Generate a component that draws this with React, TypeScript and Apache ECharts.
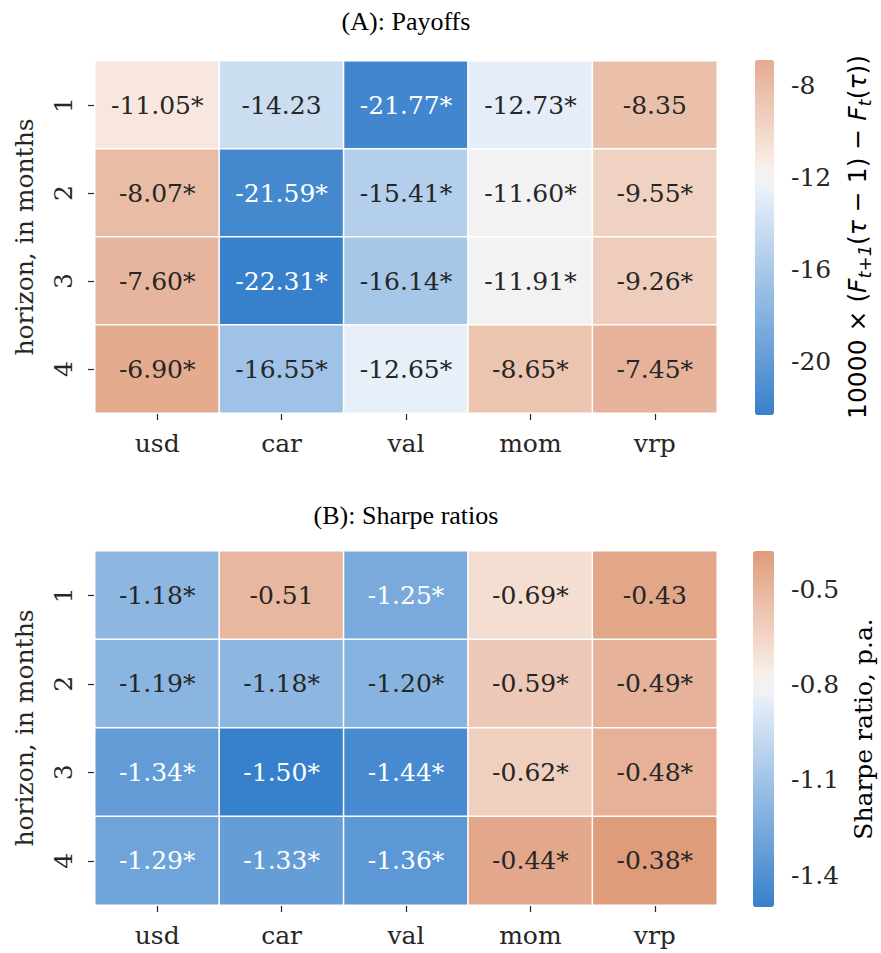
import React, { useEffect, useRef } from 'react';
import * as echarts from 'echarts';

const assets = ['usd', 'car', 'val', 'mom', 'vrp'];
const horizons = ['1', '2', '3', '4'];

const payoffs = [
  [-11.05, -14.23, -21.77, -12.73, -8.35],
  [-8.07, -21.59, -15.41, -11.6, -9.55],
  [-7.6, -22.31, -16.14, -11.91, -9.26],
  [-6.9, -16.55, -12.65, -8.65, -7.45],
];
const payoffStars = [
  [true, false, true, true, false],
  [true, true, true, true, true],
  [true, true, true, true, true],
  [true, true, true, true, true],
];
const sharpes = [
  [-1.18, -0.51, -1.25, -0.69, -0.43],
  [-1.19, -1.18, -1.2, -0.59, -0.49],
  [-1.34, -1.5, -1.44, -0.62, -0.48],
  [-1.29, -1.33, -1.36, -0.44, -0.38],
];
const sharpeStars = [
  [true, false, true, true, false],
  [true, true, true, true, true],
  [true, true, true, true, true],
  [true, true, true, true, true],
];
const payoffTicks = [-20, -16, -12, -8];
const sharpeTicks = [-1.4, -1.1, -0.8, -0.5];
const payoffScale = { min: -22.31, max: -6.9, center: -12 };
const sharpeScale = { min: -1.5, max: -0.38, center: -0.8 };

// diverging palette: full blue / light blue tint / grey centre / light orange tint / full orange
const BLUE = [55, 128, 203];
const LIGHT_BLUE = [235, 242, 250];
const MID = [242, 242, 242];
const LIGHT_ORANGE = [250, 239, 233];
const ORANGE = [203, 96, 44];
const SEP = 0.04;
const DARK = '#262626';
const SERIF = 'DejaVu Serif';

function lerp(a: number[], b: number[], t: number) {
  return a.map((v, i) => v + (b[i] - v) * t);
}
function cmap(t: number) {
  let c: number[];
  if (Math.abs(t) <= SEP) c = MID;
  else if (t < 0) c = lerp(LIGHT_BLUE, BLUE, Math.min(1, (-t - SEP) / (1 - SEP)));
  else c = lerp(LIGHT_ORANGE, ORANGE, Math.min(1, (t - SEP) / (1 - SEP)));
  return c.map((v) => Math.round(v));
}
function colorFor(v: number, s: { min: number; max: number; center: number }) {
  const vr = Math.max(s.max - s.center, s.center - s.min);
  return cmap((v - s.center) / vr);
}
function toHex(c: number[]) {
  return '#' + c.map((v) => v.toString(16).padStart(2, '0')).join('');
}
function lum(c: number[]) {
  const f = (x: number) => {
    const s = x / 255;
    return s <= 0.03928 ? s / 12.92 : Math.pow((s + 0.055) / 1.055, 2.4);
  };
  return 0.2126 * f(c[0]) + 0.7152 * f(c[1]) + 0.0722 * f(c[2]);
}
function paletteSamples(s: { min: number; max: number; center: number }) {
  const out: string[] = [];
  const n = 255;
  for (let i = 0; i <= n; i++) {
    out.push(toHex(colorFor(s.min + ((s.max - s.min) * i) / n, s)));
  }
  return out;
}
function cells(vals: number[][], stars: boolean[][], s: any) {
  const data: any[] = [];
  vals.forEach((row, r) =>
    row.forEach((v, c) => {
      const col = colorFor(v, s);
      data.push({
        value: [c, r, v],
        itemStyle: { color: toHex(col) },
        label: {
          formatter: v.toFixed(2) + (stars[r][c] ? '*' : ''),
          color: lum(col) > 0.408 ? DARK : '#ffffff',
        },
      });
    })
  );
  return data;
}

export default function App() {
  const ref = useRef<HTMLDivElement>(null);
  useEffect(() => {
    if (!ref.current) return;
    const chart = echarts.init(ref.current, null, { renderer: 'svg' });
    const heatGrids = [
      { left: 95, top: 61, width: 622, height: 352 },
      { left: 95, top: 551, width: 622, height: 354 },
    ];
    const barGrids = [
      { left: 755, top: 60, width: 19, height: 355 },
      { left: 753, top: 551, width: 21, height: 356 },
    ];
    const scales = [payoffScale, sharpeScale];
    const ticks = [payoffTicks, sharpeTicks];
    const tickStyle = { show: true, length: 7, lineStyle: { color: DARK, width: 1.2 } };
    const labelFont = { fontFamily: SERIF, fontSize: 25, color: DARK };

    const option: any = {
      animation: false,
      backgroundColor: '#ffffff',
      grid: [...heatGrids, ...barGrids],
      xAxis: [
        ...[0, 1].map((g) => ({
          gridIndex: g,
          type: 'category',
          data: assets,
          position: 'bottom',
          axisLine: { show: false },
          axisTick: { ...tickStyle, alignWithLabel: true },
          axisLabel: { ...labelFont, margin: 18 },
          splitArea: { show: false },
          splitLine: { show: false },
        })),
        ...[2, 3].map((g) => ({ gridIndex: g, type: 'value', show: false, min: 0, max: 1 })),
      ],
      yAxis: [
        ...[0, 1].map((g) => ({
          gridIndex: g,
          type: 'category',
          data: horizons,
          inverse: true,
          axisLine: { show: false },
          axisTick: { ...tickStyle, alignWithLabel: true },
          axisLabel: { ...labelFont, rotate: 90, margin: 19 },
          splitArea: { show: false },
          splitLine: { show: false },
          name: 'horizon, in months',
          nameLocation: 'middle',
          nameRotate: 90,
          nameGap: 58,
          nameTextStyle: { fontFamily: SERIF, fontSize: 25, color: DARK },
        })),
        ...[2, 3].map((g, i) => ({
          gridIndex: g,
          type: 'value',
          position: 'right',
          min: scales[i].min,
          max: scales[i].max,
          axisLine: { show: false },
          splitLine: { show: false },
          axisTick: { ...tickStyle, customValues: ticks[i] },
          axisLabel: { ...labelFont, fontSize: 25, customValues: ticks[i], margin: 17 },
        })),
      ],
      visualMap: [0, 1].map((i) => ({
        type: 'continuous',
        seriesIndex: i,
        min: scales[i].min,
        max: scales[i].max,
        calculable: false,
        hoverLink: false,
        text: null,
        showLabel: false,
        orient: 'vertical',
        left: barGrids[i].left,
        top: barGrids[i].top,
        itemWidth: barGrids[i].width,
        itemHeight: barGrids[i].height,
        padding: 0,
        inRange: { color: paletteSamples(scales[i]) },
      })),
      series: [
        {
          type: 'heatmap',
          xAxisIndex: 0,
          yAxisIndex: 0,
          data: cells(payoffs, payoffStars, payoffScale),
          itemStyle: { borderColor: '#ffffff', borderWidth: 1.5 },
          label: { show: true, fontFamily: SERIF, fontSize: 25 },
          emphasis: { disabled: true },
        },
        {
          type: 'heatmap',
          xAxisIndex: 1,
          yAxisIndex: 1,
          data: cells(sharpes, sharpeStars, sharpeScale),
          itemStyle: { borderColor: '#ffffff', borderWidth: 1.5 },
          label: { show: true, fontFamily: SERIF, fontSize: 25 },
          emphasis: { disabled: true },
        },
        { type: 'scatter', xAxisIndex: 2, yAxisIndex: 2, data: [] },
        { type: 'scatter', xAxisIndex: 3, yAxisIndex: 3, data: [] },
      ],
      graphic: [
        {
          type: 'text',
          x: 406,
          y: 21,
          style: {
            text: '(A): Payoffs',
            fontFamily: 'Liberation Serif',
            fontSize: 26,
            fill: '#000',
            align: 'center',
            verticalAlign: 'middle',
          },
        },
        {
          type: 'text',
          x: 406,
          y: 515,
          style: {
            text: '(B): Sharpe ratios',
            fontFamily: 'Liberation Serif',
            fontSize: 26,
            fill: '#000',
            align: 'center',
            verticalAlign: 'middle',
          },
        },
        {
          type: 'text',
          x: 857,
          y: 237,
          rotation: Math.PI / 2,
          style: {
            text: '10000 × ({i|F}{s|t+1}({i|τ} − 1) − {i|F}{s|t}({i|τ}))',
            fontFamily: 'DejaVu Sans',
            fontSize: 25,
            lineHeight: 32,
            fill: '#000',
            align: 'center',
            verticalAlign: 'middle',
            rich: {
              i: { fontFamily: 'DejaVu Sans', fontStyle: 'italic', fontSize: 25, lineHeight: 32, fill: '#000' },
              s: { fontFamily: 'DejaVu Sans', fontStyle: 'italic', fontSize: 18, lineHeight: 18, verticalAlign: 'bottom', fill: '#000' },
            },
          },
        },
        {
          type: 'text',
          x: 863,
          y: 729,
          rotation: Math.PI / 2,
          style: {
            text: 'Sharpe ratio, p.a.',
            fontFamily: SERIF,
            fontSize: 25,
            fill: '#000',
            align: 'center',
            verticalAlign: 'middle',
          },
        },
      ],
    };
    chart.setOption(option);
    return () => chart.dispose();
  }, []);
  return (
    <div
      ref={ref}
      style={{ position: 'fixed', left: 0, top: 0, width: 881, height: 953, background: '#fff' }}
    />
  );
}
